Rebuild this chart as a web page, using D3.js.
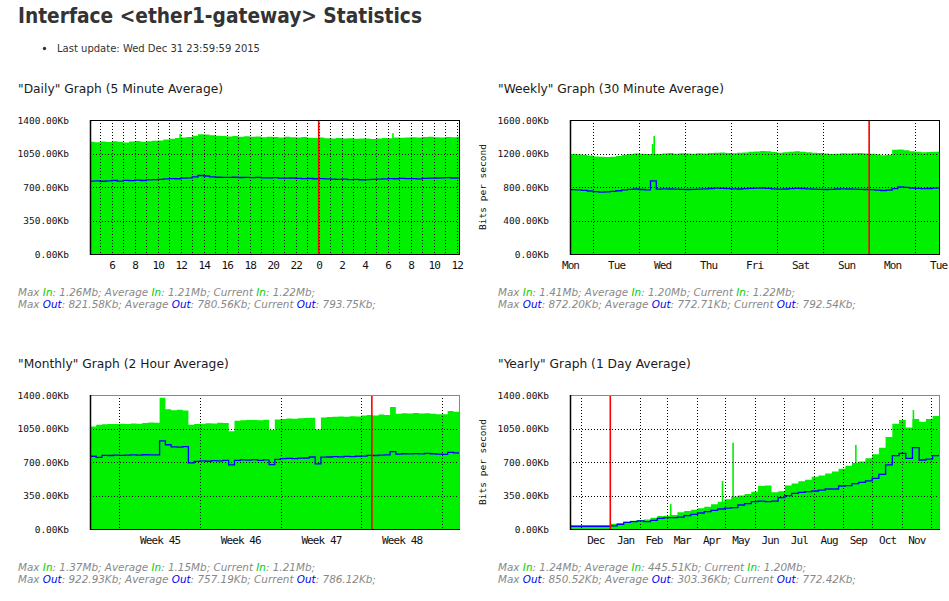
<!DOCTYPE html>
<html><head><meta charset="utf-8">
<script src="https://cdn.jsdelivr.net/npm/d3@7"></script>
<style>body{margin:0;background:#fff}</style>
</head><body>
<svg id="c" width="949" height="601"></svg>
<script>
// ---------------- DATA ----------------
const titleText = "Interface <ether1-gateway> Statistics";
const updateText = "Last update: Wed Dec 31 23:59:59 2015";

// Daily: 30-minute bins, hours relative to midnight, starting 04:00 previous day
const dailyStart = -20, dailyStep = 0.5;
const dailyIn = [1172,1168,1175,1170,1178,1172,1165,1176,1180,1174,
  1178,1182,1185,1195,1205,1212,1218,1222,1235,1252,
  1248,1240,1236,1232,1228,1232,1226,1230,1224,1228,
  1220,1226,1222,1218,1224,1220,1216,1222,1215,1212,
  1218,1210,1208,1212,1206,1210,1204,1208,1206,1202,
  1208,1212,1210,1218,1214,1216,1220,1216,1222,1225,
  1220,1218,1222,1220,1224,1222];
const dailyOut = [762,764,760,765,768,762,770,766,772,768,
  774,778,780,784,788,786,792,796,805,820,
  815,806,802,800,800,802,799,801,798,800,
  796,795,797,793,792,794,790,788,789,786,
  788,784,782,780,782,778,780,776,778,780,
  782,785,788,786,790,787,788,785,790,792,
  794,795,797,794,796,794];
const dailyInPeaks = [{t:-12.05, v:1254}, {t:6.46, v:1262}];
const dailyTickHours = [-18,-16,-14,-12,-10,-8,-6,-4,-2,0,2,4,6,8,10,12];
const dailyTickLabels = ["6","8","10","12","14","16","18","20","22","0","2","4","6","8","10","12"];
const dailyYTicks = [0,350,700,1050,1400];
const dailyLegIn = ["1.26Mb","1.21Mb","1.22Mb"];
const dailyLegOut = ["821.58Kb","780.56Kb","793.75Kb"];

// Weekly: 3-hour bins, days from Monday noon
const weeklyStart = 0, weeklyStep = 0.125;
const weeklyIn = [1195,1192,1185,1175,1165,1160,1158,1162,1170,1185,
  1195,1200,1198,1195,1195,1195,1200,1205,1198,1202,
  1200,1196,1204,1200,1205,1210,1212,1206,1204,1208,
  1212,1220,1225,1230,1226,1218,1210,1214,1222,1228,
  1220,1215,1210,1205,1200,1195,1198,1202,1200,1204,
  1206,1200,1198,1190,1180,1185,1245,1248,1240,1228,
  1220,1215,1218,1222,1225,1222];
const weeklyOut = [768,765,760,752,744,740,742,748,755,765,
  772,776,770,765,872,775,778,776,774,772,
  770,772,775,778,782,786,784,780,778,776,
  780,784,786,788,784,778,774,776,780,784,
  782,778,775,772,770,772,776,778,776,774,
  772,770,768,762,758,764,780,800,796,788,
  784,780,782,786,790,788];
const weeklyInPeaks = [{t:1.795, v:1313}, {t:1.83, v:1409}];
const weeklyTickDays = [0,1,2,3,4,5,6,7,8];
const weeklyTickLabels = ["Mon","Tue","Wed","Thu","Fri","Sat","Sun","Mon","Tue"];
const weeklyYTicks = [0,400,800,1200,1600];
const weeklyLegIn = ["1.41Mb","1.20Mb","1.22Mb"];
const weeklyLegOut = ["872.20Kb","772.71Kb","792.54Kb"];

// Monthly: 12-hour bins, days from start of week 45
const monthlyStart = -2.5, monthlyStep = 0.5;
const monthlyIn = [1070,1090,1095,1098,1096,1100,1098,1102,1100,1108,
  1112,1110,1372,1250,1240,1245,1238,1090,1098,1100,
  1105,1102,1110,1108,1020,1130,1135,1138,1140,1136,
  1142,1035,1145,1150,1155,1152,1158,1160,1162,1040,
  1165,1170,1172,1175,1172,1178,1176,1185,1190,1185,
  1195,1192,1275,1205,1210,1208,1212,1206,1210,1204,
  1200,1198,1232,1225,1220];
const monthlyOut = [760,748,770,768,772,770,772,774,772,776,
  775,774,920,880,858,856,860,690,706,712,
  708,714,712,718,670,716,722,720,724,718,
  722,672,728,735,738,735,740,742,752,680,
  750,752,756,754,758,756,760,762,770,768,
  772,775,808,782,786,784,788,785,790,786,
  782,780,800,795,790];
const monthlyTickDays = [3.5,10.5,17.5,24.5];
const monthlyTickLabels = ["Week 45","Week 46","Week 47","Week 48"];
const monthlyYTicks = [0,350,700,1050,1400];
const monthlyLegIn = ["1.37Mb","1.15Mb","1.21Mb"];
const monthlyLegOut = ["922.93Kb","757.19Kb","786.12Kb"];

// Yearly: weekly bins starting 2014-11-20
const yearlyStart = Date.UTC(2014,10,20), yearlyStepDays = 7;
const yearlyIn = [42,42,42,42,42,42,55,63,77,87,
  94,98,118,136,139,146,174,188,202,216,
  233,258,286,310,340,350,365,390,450,455,
  385,395,455,475,500,515,545,560,580,600,
  630,660,690,705,740,780,850,960,1100,1140,
  1060,1150,1120,1150,1180,1195];
const yearlyOut = [28,28,28,28,28,28,32,49,70,77,
  84,77,91,111,118,118,125,139,153,167,
  181,195,209,219,223,251,265,286,292,285,
  292,327,348,373,383,390,397,407,418,418,
  449,453,474,488,502,529,571,669,766,790,
  738,850,721,731,766,773];
const yearlyInPeaks = [
  {t:Date.UTC(2015,2,5), v:261}, {t:Date.UTC(2015,3,28), v:501},
  {t:Date.UTC(2015,4,9), v:902}, {t:Date.UTC(2015,8,14), v:878},
  {t:Date.UTC(2015,10,13), v:1243}];
const yearlyTickLabels = ["Dec","Jan","Feb","Mar","Apr","May","Jun","Jul","Aug","Sep","Oct","Nov"];
const yearlyYTicks = [0,350,700,1050,1400];
const yearlyLegIn = ["1.24Mb","445.51Kb","1.20Mb"];
const yearlyLegOut = ["850.52Kb","303.36Kb","772.42Kb"];

// ---------------- DRAW ----------------
const GREEN = "#00f000", BLUE = "#0000ff", RED = "#ff0000";
const UI = "'DejaVu Sans Condensed','DejaVu Sans',Verdana,sans-serif";
const MONO = "'DejaVu Sans Mono','Liberation Mono',monospace";
const svg = d3.select("#c");
const W = 370, H = 134;

function series(start, step, arr) {
  const s = arr.map((v,i)=>({t:start+i*step, v}));
  s.push({t:start+arr.length*step, v:arr[arr.length-1]});
  return s;
}

let clipN = 0;
function panel(p) {
  const left = p.left, top = p.top;
  const x = p.x.range([left, left+W]);
  const y = d3.scaleLinear().domain([0, p.yTicks[p.yTicks.length-1]]).range([top+H, top]);
  const id = "clip"+(clipN++);
  svg.append("clipPath").attr("id", id).append("rect")
    .attr("x", left).attr("y", top).attr("width", W).attr("height", H);
  const g = svg.append("g").attr("clip-path", `url(#${id})`);
  g.append("path").datum(p.inS)
    .attr("d", d3.area().curve(d3.curveStepAfter).x(d=>x(d.t)).y0(y(0)).y1(d=>y(d.v)))
    .attr("fill", GREEN);
  g.selectAll("rect.pk").data(p.peaks || []).join("rect")
    .attr("x", d=>x(d.t)-0.8).attr("width", 1.6)
    .attr("y", d=>y(d.v)).attr("height", d=>y(0)-y(d.v)).attr("fill", GREEN);
  // grid
  g.selectAll("line.vg").data(p.grid).join("line")
    .attr("x1", d=>Math.round(x(d))+0.5).attr("x2", d=>Math.round(x(d))+0.5)
    .attr("y1", top).attr("y2", top+H)
    .attr("stroke", "#000").attr("stroke-width", 1).attr("stroke-dasharray", "1,2");
  g.selectAll("line.hg").data(p.yTicks.slice(1, -1)).join("line")
    .attr("x1", left).attr("x2", left+W)
    .attr("y1", d=>Math.round(y(d))+0.5).attr("y2", d=>Math.round(y(d))+0.5)
    .attr("stroke", "#000").attr("stroke-width", 1).attr("stroke-dasharray", "1,2");
  // out line
  g.append("path").datum(p.outS)
    .attr("d", d3.line().curve(d3.curveStepAfter).x(d=>x(d.t)).y(d=>y(d.v)))
    .attr("fill", "none").attr("stroke", BLUE).attr("stroke-width", 1.3);
  // red marker
  g.append("line").attr("x1", x(p.red)).attr("x2", x(p.red))
    .attr("y1", top).attr("y2", top+H).attr("stroke", RED).attr("stroke-width", 1.6);
  // frame
  const fr = svg.append("g");
  fr.append("line").attr("x1", left).attr("x2", left+W).attr("y1", top+0.5).attr("y2", top+0.5).attr("stroke", p.frameTop);
  fr.append("line").attr("x1", left+W-0.5).attr("x2", left+W-0.5).attr("y1", top).attr("y2", top+H).attr("stroke", p.frameTop);
  fr.append("line").attr("x1", left+0.5).attr("x2", left+0.5).attr("y1", top).attr("y2", top+H+1).attr("stroke", "#000").attr("stroke-width", 1.5);
  fr.append("line").attr("x1", left).attr("x2", left+W).attr("y1", top+H+0.5).attr("y2", top+H+0.5).attr("stroke", "#000");
  // axes
  const ay = svg.append("g").attr("transform", `translate(${left},0)`)
    .call(d3.axisLeft(y).tickValues(p.yTicks).tickSize(0).tickPadding(21)
      .tickFormat(d=>d3.format(".2f")(d)+"Kb"));
  ay.select(".domain").remove();
  ay.selectAll("text").attr("font-family", MONO).attr("font-size", 9.5).attr("fill", "#111");
  const ax = svg.append("g").attr("transform", `translate(0,${top+H})`)
    .call(d3.axisBottom(x).tickValues(p.ticks).tickSize(0).tickPadding(7.3)
      .tickFormat((d,i)=>p.tickLabels[i]));
  ax.select(".domain").remove();
  ax.selectAll("text").attr("font-family", MONO).attr("font-size", 11)
    .attr("letter-spacing", "-0.9px").attr("fill", "#111");
  if (p.yTitle) {
    svg.append("text").attr("transform", `translate(${left-87},${top+H/2}) rotate(-90)`)
      .attr("text-anchor", "middle").attr("dy", "0.32em")
      .attr("font-family", MONO).attr("font-size", 9.5).attr("fill", "#111").text("Bits per second");
  }
}

// header texts
const title = svg.append("text").attr("x", 18).attr("y", 23)
  .attr("font-family", UI).attr("font-weight", "bold").attr("font-size", 22)
  .attr("fill", "#333").text(titleText);
title.attr("textLength", 404).attr("lengthAdjust", "spacingAndGlyphs");
svg.append("circle").attr("cx", 44.5).attr("cy", 48.5).attr("r", 1.7).attr("fill", "#333");
svg.append("text").attr("x", 57).attr("y", 52)
  .attr("font-family", UI).attr("font-size", 10).attr("fill", "#333").text(updateText)
  .attr("textLength", 203).attr("lengthAdjust", "spacingAndGlyphs");

const headings = [
  {x:18, y:93, t:"\"Daily\" Graph (5 Minute Average)"},
  {x:498, y:93, t:"\"Weekly\" Graph (30 Minute Average)"},
  {x:18, y:368, t:"\"Monthly\" Graph (2 Hour Average)"},
  {x:498, y:368, t:"\"Yearly\" Graph (1 Day Average)"}];
const hEls = headings.map(h => svg.append("text").attr("x", h.x).attr("y", h.y)
  .attr("font-family", UI).attr("font-size", 12.5).attr("fill", "#1a1a1a").text(h.t));
const hk = 205 / hEls[0].node().getComputedTextLength();
hEls.forEach(e => e.attr("textLength", e.node().getComputedTextLength()*hk).attr("lengthAdjust", "spacingAndGlyphs"));

panel({left:90, top:120, x:d3.scaleLinear().domain([-19.89, 12.29]),
  yTicks:dailyYTicks, inS:series(dailyStart, dailyStep, dailyIn), outS:series(dailyStart, dailyStep, dailyOut),
  peaks:dailyInPeaks, grid:d3.range(-19, 13), ticks:dailyTickHours, tickLabels:dailyTickLabels,
  red:0, frameTop:"#000"});
panel({left:570, top:120, x:d3.scaleLinear().domain([0, 8.04]),
  yTicks:weeklyYTicks, inS:series(weeklyStart, weeklyStep, weeklyIn), outS:series(weeklyStart, weeklyStep, weeklyOut),
  peaks:weeklyInPeaks, grid:d3.range(0.5, 8, 1), ticks:weeklyTickDays, tickLabels:weeklyTickLabels,
  red:6.5, frameTop:"#000", yTitle:true});
panel({left:90, top:395, x:d3.scaleLinear().domain([-2.54, 29.57]),
  yTicks:monthlyYTicks, inS:series(monthlyStart, monthlyStep, monthlyIn), outS:series(monthlyStart, monthlyStep, monthlyOut),
  peaks:[], grid:[0,7,14,21,28], ticks:monthlyTickDays, tickLabels:monthlyTickLabels,
  red:21.92, frameTop:"#888"});
const dayMs = 864e5;
const ySeries = arr => { const s = arr.map((v,i)=>({t:new Date(yearlyStart+i*yearlyStepDays*dayMs), v}));
  s.push({t:new Date(yearlyStart+arr.length*yearlyStepDays*dayMs), v:arr[arr.length-1]}); return s; };
const monthStarts = d3.utcMonth.range(new Date(Date.UTC(2014,11,1)), new Date(Date.UTC(2015,11,2)));
const monthMids = yearlyTickLabels.map((_,i)=>new Date((+monthStarts[i] + +monthStarts[i+1])/2));
panel({left:570, top:395, x:d3.scaleUtc().domain([new Date(Date.UTC(2014,10,20)), new Date(Date.UTC(2015,11,10,17))]),
  yTicks:yearlyYTicks, inS:ySeries(yearlyIn), outS:ySeries(yearlyOut),
  peaks:yearlyInPeaks.map(d=>({t:new Date(d.t), v:d.v})), grid:monthStarts, ticks:monthMids, tickLabels:yearlyTickLabels,
  red:new Date(Date.UTC(2015,0,1)), frameTop:"#888", yTitle:true});

// legends
function legend(x, y, label, color, vals) {
  const t = svg.append("text").attr("x", x).attr("y", y)
    .attr("font-family", UI).attr("font-size", 10).attr("font-style", "italic").attr("fill", "#888");
  [["Max ","#888"],[label,color],[": "+vals[0]+"; Average ","#888"],[label,color],
   [": "+vals[1]+"; Current ","#888"],[label,color],[": "+vals[2]+";","#888"]]
    .forEach(([s,c]) => t.append("tspan").attr("fill", c).text(s));
  return t;
}
const legs = [
  legend(18, 295.5, "In", "#00cc00", dailyLegIn), legend(18, 308, "Out", "#0000ee", dailyLegOut),
  legend(498, 295.5, "In", "#00cc00", weeklyLegIn), legend(498, 308, "Out", "#0000ee", weeklyLegOut),
  legend(18, 570.5, "In", "#00cc00", monthlyLegIn), legend(18, 583, "Out", "#0000ee", monthlyLegOut),
  legend(498, 570.5, "In", "#00cc00", yearlyLegIn), legend(498, 583, "Out", "#0000ee", yearlyLegOut)];
const lk = 297 / legs[0].node().getComputedTextLength();
legs.forEach(e => e.attr("textLength", e.node().getComputedTextLength()*lk).attr("lengthAdjust", "spacingAndGlyphs"));
</script>
</body></html>
